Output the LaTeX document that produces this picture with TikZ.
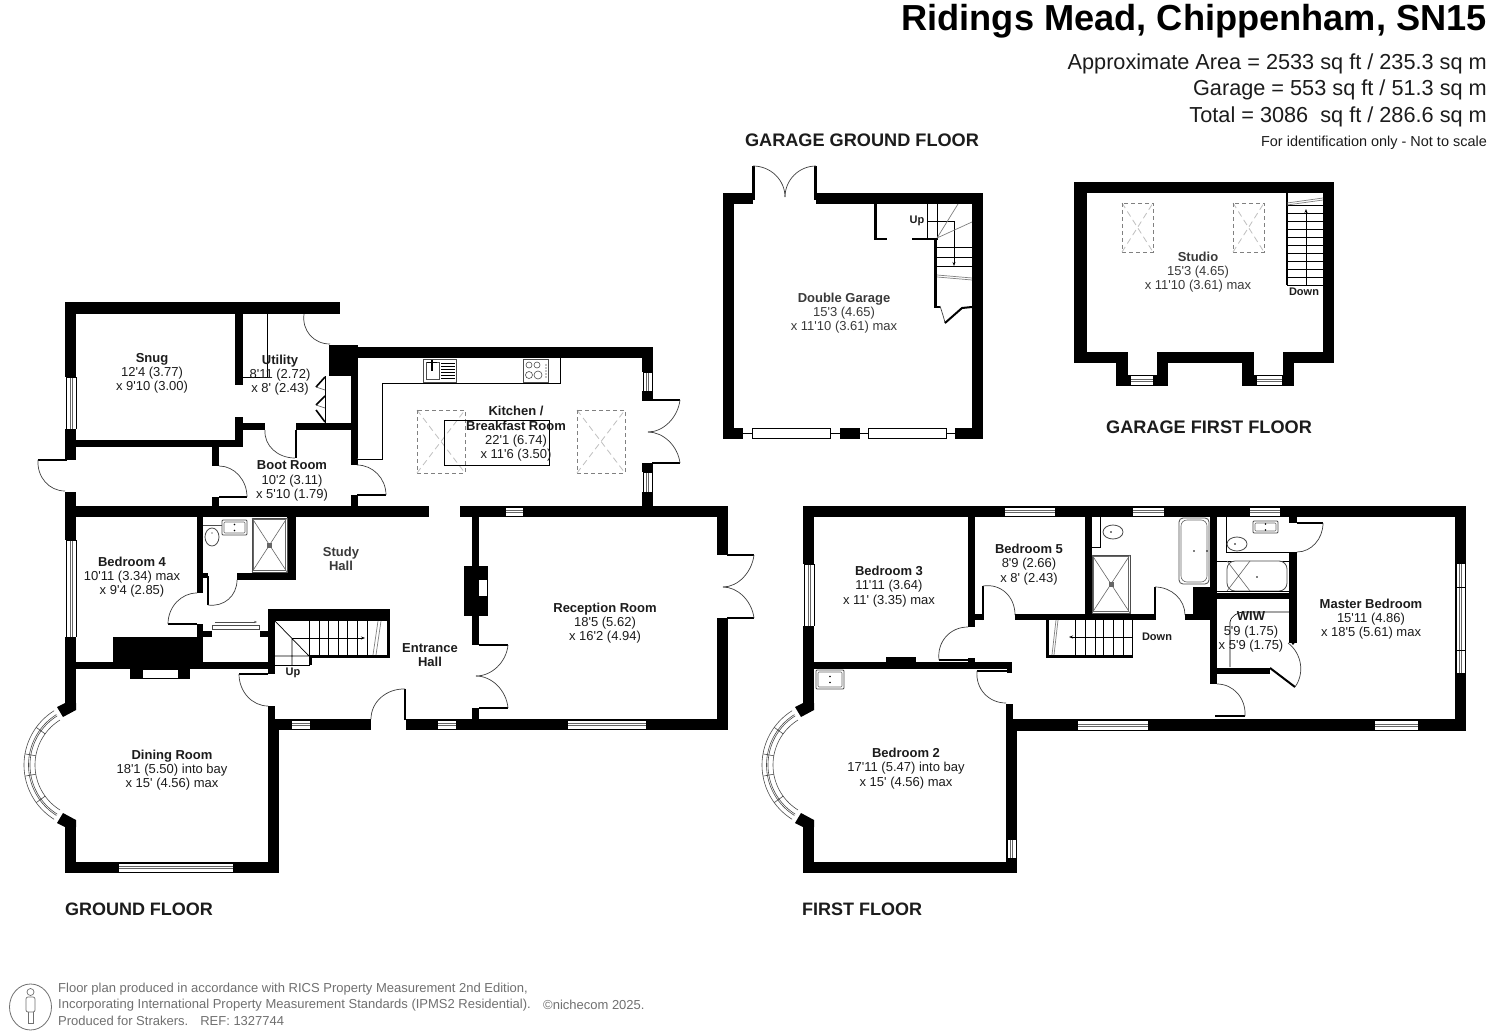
\documentclass[tikz,border=0pt]{standalone}
\usepackage{fontspec}
\newfontfamily\arialf{Liberation Sans}
\usetikzlibrary{arrows.meta}
\definecolor{ink}{HTML}{1C1C1C}
\definecolor{soft}{HTML}{3A3A3A}
\definecolor{foot}{HTML}{707070}
\tikzset{
  rm/.style={align=center,inner sep=0pt,text=ink,font=\arialf\fontsize{13}{14.3}\selectfont},
  softrm/.style={rm,text=soft},
  tiny/.style={inner sep=0pt,text=ink,font=\arialf\bfseries\fontsize{11}{13}\selectfont},
  floor/.style={inner sep=0pt,text=ink,font=\arialf\bfseries\fontsize{18.15}{20}\selectfont},
  floorb/.style={inner sep=0pt,text=ink,font=\arialf\bfseries\fontsize{18}{20}\selectfont},
  area/.style={inner sep=0pt,anchor=east,text=ink,font=\arialf\fontsize{21.7}{24}\selectfont},
  footl/.style={inner sep=0pt,anchor=west,text=foot,font=\arialf\fontsize{13}{15}\selectfont},
  thin1/.style={draw=black,line width=0.6pt},
  arcl/.style={draw=black!75,line width=0.7pt},
  leaf/.style={draw=black,line width=2pt},
  tread/.style={draw=black,line width=0.7pt},
  fix/.style={draw=black!70,line width=0.8pt,fill=white},
  skyd/.style={draw=black!50,line width=0.8pt,dashed,dash pattern=on 4pt off 3pt},
  skyx/.style={draw=black!25,line width=0.8pt,dashed,dash pattern=on 6pt off 4pt},
}
\newcommand{\Wl}[4]{\fill[black] (#1,#2) rectangle (#3,#4);}
% horizontal window: x1 x2 y1 y2
\newcommand{\WinH}[4]{\fill[white] (#1,#3) rectangle (#2,#4);
  \draw[thin1] (#1,#3) -- (#2,#3) (#1,#4) -- (#2,#4);
  \draw[draw=black!60,line width=0.6pt] (#1,{(#3+#4)/2-1}) -- (#2,{(#3+#4)/2-1}) (#1,{(#3+#4)/2+1}) -- (#2,{(#3+#4)/2+1});
  \draw[thin1] (#1,#3) -- (#1,#4) (#2,#3) -- (#2,#4);}
\newcommand{\WinV}[4]{\fill[white] (#1,#3) rectangle (#2,#4);
  \draw[thin1] (#1,#3) -- (#1,#4) (#2,#3) -- (#2,#4);
  \draw[draw=black!60,line width=0.6pt] ({(#1+#2)/2-1},#3) -- ({(#1+#2)/2-1},#4) ({(#1+#2)/2+1},#3) -- ({(#1+#2)/2+1},#4);
  \draw[thin1] (#1,#3) -- (#2,#3) (#1,#4) -- (#2,#4);}
% door swing: hinge h, leaf tip p, closed tip q
\newcommand{\Sw}[6]{\draw[arcl] (#3,#4) .. controls ({#3+0.55*(#5-#1)},{#4+0.55*(#6-#2)}) and ({#5+0.55*(#3-#1)},{#6+0.55*(#4-#2)}) .. (#5,#6);}
\newcommand{\Dr}[6]{\draw[leaf] (#1,#2) -- (#3,#4); \Sw{#1}{#2}{#3}{#4}{#5}{#6}}
\newcommand{\Sky}[4]{\draw[skyx] (#1,#2) -- (#3,#4) (#1,#4) -- (#3,#2); \draw[skyd] (#1,#2) rectangle (#3,#4);}
\newcommand{\Shower}[4]{\draw[fix] (#1,#2) rectangle (#3,#4);
  \draw[draw=black!60,line width=0.6pt] ({#1+1.5},{#2+1.5}) rectangle ({#3-1.5},{#4-1.5});
  \draw[draw=black!60,line width=0.6pt] (#1,#2) -- (#3,#4) (#1,#4) -- (#3,#2);
  \fill[black!60] ({(#1+#3)/2-2.5},{(#2+#4)/2-2.5}) rectangle ({(#1+#3)/2+2.5},{(#2+#4)/2+2.5});}
\newcommand{\Basin}[4]{\draw[fix,rounded corners=1pt] (#1,#2) rectangle (#3,#4);
  \draw[draw=black!60,line width=0.6pt,rounded corners=1pt] ({#1+2},{#2+2}) rectangle ({#3-2},{#4-2});
  \fill[black] ({(#1+#3)/2},{(#2+#4)/2-3}) circle (0.9pt) ({(#1+#3)/2},{(#2+#4)/2+3}) circle (0.9pt);}
\newcommand{\Bay}{%
  \foreach \r in {53,58,59.5,64}{\draw[draw=black!70,line width=0.6pt] plot[domain=122:238,samples=40] ({88+\r*cos(\x)},{765+\r*sin(\x)});}
  \foreach \a in {144,170,190,216}{\draw[draw=black!70,line width=0.6pt] ({88+53*cos(\a)},{765+53*sin(\a)}) -- ({88+64*cos(\a)},{765+64*sin(\a)});}
  \fill[black] (57,707) -- (65,703) -- (76,703) -- (76,710) -- (63,717) -- cycle;
  \fill[black] (57,823) -- (65,827) -- (76,827) -- (76,820) -- (63,813) -- cycle;}
\begin{document}
\begin{tikzpicture}[x=1pt,y=-1pt,line cap=butt]
\useasboundingbox (0,0) rectangle (1496,1032);
\fill[white] (0,0) rectangle (1496,1032);

% ---------- GROUND FLOOR ----------
\Wl{65}{302}{340}{314}
\Wl{65}{302}{76}{377}\Wl{65}{429}{76}{460}\Wl{65}{492}{76}{540}\Wl{65}{637}{76}{703}\Wl{65}{827}{76}{873}
\WinV{66}{76}{377}{429}\WinV{66}{76}{540}{637}
\Dr{67}{460}{38}{460}{65}{491}
\Wl{235}{314}{243}{385}\Wl{235}{417}{243}{447}
\draw[thin1] (267,314) -- (267,377) -- (243,377);
\Wl{76}{440}{243}{447}
\Wl{243}{423}{265}{430}\Wl{296}{423}{352}{430}\Wl{295}{430}{297}{458}
\Sw{297}{430}{265}{430}{295}{458}
\Wl{212}{447}{219}{466}\Wl{212}{497}{219}{507}
\Dr{219}{497}{247}{497}{219}{466}
\Wl{329}{345}{358}{376}
\Wl{329}{347}{653}{358}
\Wl{351}{345}{358}{465}\Wl{351}{495}{358}{507}
\Dr{357}{495}{386}{495}{357}{465}
% utility door and cupboard folding doors
\Sw{334}{314}{304}{314}{330}{344}
\draw[thin1] (325,376) -- (325,423);
\draw[draw=black,line width=1.6pt] (325,377) -- (316,387) (325,396) -- (316,405) (316,410) -- (325,422);
\draw[draw=black!70,line width=0.6pt] (316,387) -- (325,390) (316,405) -- (325,408);
\Wl{642}{347}{653}{372}\Wl{642}{391}{653}{401}\Wl{642}{463}{653}{472}\Wl{642}{492}{653}{507}
\WinV{643}{652}{372}{391}\WinV{643}{652}{472}{492}
\Dr{652}{400}{680}{400}{648}{432}
\Dr{652}{463}{680}{463}{648}{432}
\Wl{65}{506}{429}{517}\Wl{460}{506}{728}{517}
\WinH{505}{523}{507}{516}
\Wl{717}{506}{728}{555}\Wl{717}{618}{728}{730}
\Dr{727}{555}{754}{555}{723}{587}
\Dr{727}{618}{754}{618}{723}{587}
\Wl{406}{719}{728}{730}
\WinH{437}{456}{720}{729}\WinH{567}{646}{720}{729}
\Wl{268}{719}{371}{730}
\WinH{291}{310}{720}{729}
\draw[leaf] (405,720) -- (405,689);
\Sw{405}{720}{405}{689}{371}{719}
\Wl{472}{517}{479}{645}\Wl{464}{566}{488}{616}
\fill[white] (479,580) rectangle (487,596);
\Dr{479}{645}{508}{645}{476}{676}
\Dr{479}{708}{508}{708}{476}{676}
\Wl{472}{708}{479}{719}
% kitchen counter and fittings
\draw[thin1,fill=white] (357,459) -- (382,459) -- (382,383) -- (560,383) -- (560,358);
\draw[fix] (423,359) rectangle (456,382);
\draw[draw=black!70,line width=0.6pt] (426,362) rectangle (439,379);
\foreach \yy in {363,366,369,372,375,378}{\draw[black,line width=1pt] (441,\yy) -- (455,\yy);}
\draw[black,line width=1.4pt] (432,360) -- (432,371);
\draw[black,line width=1pt] (427,362) -- (437,362);
\draw[fix] (523,359) rectangle (548,382);
\foreach \cx/\cy/\cr in {529/365/3,537/365/3,529/375/3.5,538/375/4}{\draw[black!70,line width=0.6pt] (\cx,\cy) circle (\cr pt);}
\foreach \yy in {365,368,371,374,377}{\fill[black] (546,\yy) circle (0.7pt);}
\Sky{417}{410}{465}{473}
\Sky{577}{410}{625}{473}
\draw[draw=black,line width=0.8pt] (444,420) rectangle (549,465);
% bath & bedroom 4 side
\Wl{197}{517}{203}{593}
\Wl{203}{573}{208}{578}
\Dr{208}{576}{208}{605}{237}{580}
\Wl{237}{573}{296}{580}\Wl{287}{517}{296}{580}
\Shower{252}{518}{287}{572}
\draw[fix] (203,525) -- (222,525);
\draw[fix] (212,537) ellipse (7pt and 9pt);
\fill[black] (212,533) circle (0.7pt);
\Basin{222}{520}{247}{535}
\Dr{197}{624}{168}{624}{197}{593}
\Wl{197}{624}{203}{637}\Wl{113}{637}{203}{665}
\Wl{76}{662}{268}{669}
\Wl{130}{669}{190}{679}
\fill[white] (143,670) rectangle (178,678);
\Wl{203}{631}{212}{637}\Wl{260}{631}{268}{637}
\draw[fix] (212,625) rectangle (259,629);
\draw[-{Stealth[length=3pt]},draw=black!70,line width=0.6pt] (215,622) -- (257,622);
% ground stairs
\Wl{268}{609}{275}{674}\Wl{268}{609}{390}{621}\Wl{387}{609}{390}{658}\Wl{312}{655}{390}{658}\Wl{309}{655}{312}{665}
\draw[tread] (275,665) -- (310,665);
\foreach \xx in {309,319,328,338,347,357,367}{\draw[tread] (\xx,621) -- (\xx,655);}
\draw[draw=black!50,line width=0.7pt] (373,655) -- (378,621) (376,655) -- (381,621);
\draw[tread] (275,621) -- (309,656) (275,656) -- (309,656) (292,638) -- (292,665);
\draw[-{Stealth[length=4pt]},tread] (292,638) -- (365,638);
\Dr{268}{674}{239}{674}{268}{706}
\Wl{268}{706}{275}{719}\Wl{268}{719}{279}{873}
\Wl{65}{862}{279}{873}
\WinH{118}{233}{863}{872}
\begin{scope}\Bay\end{scope}

% ---------- GARAGE GROUND FLOOR ----------
\Wl{723}{193}{753}{204}\Wl{816}{193}{983}{204}
\Wl{723}{193}{734}{439}\Wl{972}{193}{983}{439}
\Wl{752}{166}{755}{200}\Wl{814}{166}{817}{200}
\Sw{753}{197}{753}{166}{785}{197}
\Sw{816}{197}{816}{166}{785}{197}
\Wl{874}{204}{877}{240}\Wl{874}{238}{887}{240}\Wl{912}{238}{936}{240}
\Wl{934}{238}{937}{308}\Wl{934}{306}{940}{308}
\Sw{940}{308}{940}{306}{945}{323}
\draw[leaf] (945,323) -- (962,308) -- (972,307);
\foreach \yy in {247,257,266}{\draw[tread] (937,\yy) -- (972,\yy);}
\draw[draw=black!50,line width=0.7pt] (937,275) -- (972,278) (937,277) -- (972,280);
\draw[tread] (927,204) -- (927,240) (937,204) -- (937,240) (927,221) -- (954,221);
\draw[-{Stealth[length=4pt]},tread] (954,221) -- (954,266);
\draw[draw=black!50,line width=0.7pt] (937,238) -- (958,204) (937,238) -- (972,222);
\Wl{723}{428}{743}{439}\Wl{840}{428}{860}{439}\Wl{955}{428}{983}{439}
\draw[thin1] (743,433.5) -- (752,433.5) (830,433.5) -- (840,433.5) (860,433.5) -- (868,433.5) (946,433.5) -- (955,433.5);
\draw[thin1] (752,428.5) rectangle (830,438.5);
\draw[thin1] (868,428.5) rectangle (946,438.5);

% ---------- GARAGE FIRST FLOOR ----------
\Wl{1074}{182}{1334}{193}
\Wl{1074}{182}{1087}{363}\Wl{1323}{182}{1334}{363}
\Wl{1074}{352}{1128}{363}\Wl{1157}{352}{1254}{363}\Wl{1283}{352}{1334}{363}
\Wl{1116}{352}{1128}{386}\Wl{1157}{352}{1168}{386}\Wl{1242}{352}{1254}{386}\Wl{1283}{352}{1294}{386}
\Wl{1116}{375}{1130}{386}\Wl{1153}{375}{1168}{386}\Wl{1242}{375}{1256}{386}\Wl{1282}{375}{1294}{386}
\WinH{1130}{1153}{375}{385}\WinH{1256}{1282}{375}{385}
\Sky{1122}{203}{1153}{252}
\Sky{1233}{203}{1264}{252}
\Wl{1286}{193}{1288}{285}
\foreach \yy in {205,213,221,229,237,245,253,261,269,277,285}{\draw[tread] (1287,\yy) -- (1323,\yy);}
\draw[draw=black!50,line width=0.7pt] (1287,203) -- (1323,198) (1287,205) -- (1323,200);
\draw[-{Stealth[length=4pt]},tread] (1306,285) -- (1306,209);

% ---------- FIRST FLOOR ----------
\Wl{803}{506}{1466}{517}
\WinH{1004}{1055}{507}{516}\WinH{1132}{1164}{507}{516}\WinH{1249}{1280}{507}{516}
\Wl{803}{506}{814}{564}\Wl{803}{626}{814}{703}\Wl{803}{827}{814}{873}
\WinV{804}{814}{564}{626}
\Wl{803}{862}{1017}{873}
\Wl{1006}{719}{1017}{873}
\WinV{1007}{1016}{839}{858}
\Wl{1006}{704}{1013}{720}
\Wl{1006}{719}{1466}{731}
\WinH{1077}{1148}{720}{730}\WinH{1374}{1418}{720}{730}
\Wl{1455}{506}{1466}{731}
\WinV{1456}{1465}{563}{587}\WinV{1456}{1465}{587}{650}\WinV{1456}{1465}{650}{673}
\Wl{968}{517}{975}{627}
\Wl{975}{614}{983}{620}
\Dr{983}{620}{983}{586}{1015}{615}
\Wl{1015}{614}{1156}{620}
\Wl{1085}{517}{1092}{620}
\Dr{1155}{615}{1155}{587}{1185}{615}
\Wl{1185}{614}{1217}{620}
\Wl{1193}{587}{1217}{620}
\Wl{1210}{517}{1217}{684}
\Wl{1217}{593}{1297}{599}
\Wl{1289}{552}{1297}{643}\Wl{1289}{517}{1297}{523}
\fill[black] (1289,640) -- (1297,640) -- (1293,645) -- cycle;
\Dr{1297}{523}{1323}{523}{1297}{552}
\Wl{1217}{668}{1270}{674}
\draw[leaf] (1270,668) -- (1295,687);
\Sw{1270}{668}{1295}{687}{1288}{643}
\draw[thin1] (1230,667) -- (1230,622) .. controls (1230,617) and (1238,612) .. (1243,612) -- (1289,612);
\Dr{1215}{716}{1245}{716}{1217}{684}
% wet rooms
\draw[fix,rounded corners=4pt] (1179,518) rectangle (1209,584);
\draw[draw=black!60,line width=0.6pt,rounded corners=6pt] (1181,520) rectangle (1207,582);
\fill[black] (1194,551) circle (0.9pt) (1207,551) circle (0.9pt);
\draw[thin1] (1100,517) -- (1100,547) -- (1092,547);
\draw[fix] (1113,532) ellipse (10pt and 7pt);
\fill[black] (1111,532) circle (0.8pt);
\Shower{1092}{555}{1130}{613}
\draw[thin1] (1226,517) -- (1226,552) -- (1289,552);
\draw[fix] (1237,544) ellipse (10pt and 7pt);
\fill[black] (1235,544) circle (0.8pt);
\Basin{1253}{521}{1278}{533}
\draw[thin1] (1217,561) -- (1289,561);
\draw[fix,rounded corners=8pt] (1227,561) rectangle (1287,591);
\draw[draw=black!60,line width=0.6pt] (1227,561) -- (1250,591) (1227,591) -- (1250,561);
\fill[black] (1257,577) circle (0.9pt);
\draw[thin1] (1217,591) -- (1289,591);
\draw[thin1] (1289,561) -- (1289,591);
% first floor stairs
\Wl{1046}{620}{1049}{658}\Wl{1046}{655}{1133}{658}
\foreach \xx in {1075,1085,1095,1103,1113,1123,1132}{\draw[tread] (\xx,620) -- (\xx,655);}
\draw[draw=black!50,line width=0.7pt] (1052,655) -- (1056,620) (1054,655) -- (1058,620);
\draw[-{Stealth[length=4pt]},tread] (1132,637) -- (1069,637);
% bed 2/3 partition
\Wl{814}{662}{1012}{669}
\Wl{886}{657}{916}{662}
\Wl{968}{658}{975}{662}
\Dr{972}{660}{939}{660}{968}{627}
\Wl{1007}{662}{1012}{673}
\Dr{1009}{671}{977}{671}{1006}{703}
\Basin{816}{670}{844}{689}
\begin{scope}[shift={(738,0)}]\Bay\end{scope}

% ---------- TEXT ----------
\node[rm] (snug) at (152,373.5) {\textbf{Snug}\\12'4 (3.77)\\x 9'10 (3.00)};
\node[rm] (utility) at (280,375) {\textbf{Utility}\\8'11 (2.72)\\x 8' (2.43)};
\node[rm] (boot) at (292,481) {\textbf{Boot Room}\\10'2 (3.11)\\x 5'10 (1.79)};
\node[rm] (kitchen) at (516,434) {\textbf{Kitchen /}\\\textbf{Breakfast Room}\\22'1 (6.74)\\x 11'6 (3.50)};
\node[rm] (reception) at (605,623) {\textbf{Reception Room}\\18'5 (5.62)\\x 16'2 (4.94)};
\node[rm] (entrance) at (430,655) {\textbf{Entrance}\\\textbf{Hall}};
\node[softrm] (study) at (341,559) {\textbf{Study}\\\textbf{Hall}};
\node[rm] (bed4) at (132,577) {\textbf{Bedroom 4}\\10'11 (3.34) max\\x 9'4 (2.85)};
\node[rm] (dining) at (172,770) {\textbf{Dining Room}\\18'1 (5.50) into bay\\x 15' (4.56) max};
\node[tiny] (upa) at (293,673) {Up};
\node[softrm] (garage) at (844,313) {\textbf{Double Garage}\\15'3 (4.65)\\x 11'10 (3.61) max};
\node[tiny] (upb) at (917,221) {Up};
\node[softrm] (studio) at (1198,272) {\textbf{Studio}\\15'3 (4.65)\\x 11'10 (3.61) max};
\node[tiny] (downa) at (1304,292) {Down};
\node[rm] (bed2) at (906,768.5) {\textbf{Bedroom 2}\\17'11 (5.47) into bay\\x 15' (4.56) max};
\node[rm] (bed3) at (889,586.5) {\textbf{Bedroom 3}\\11'11 (3.64)\\x 11' (3.35) max};
\node[rm] (bed5) at (1029,564.5) {\textbf{Bedroom 5}\\8'9 (2.66)\\x 8' (2.43)};
\node[rm] (master) at (1371,619) {\textbf{Master Bedroom}\\15'11 (4.86)\\x 18'5 (5.61) max};
\node[rm] (wiw) at (1251,632) {\textbf{WIW}\\5'9 (1.75)\\x 5'9 (1.75)};
\node[tiny] (downb) at (1157,637) {Down};
\node[floor] (fgg) at (862,140) {GARAGE GROUND FLOOR};
\node[floor] (fgf) at (1209,427) {GARAGE FIRST FLOOR};
\node[floorb] (fg) at (139,909) {GROUND FLOOR};
\node[floorb] (ff) at (862,909) {FIRST FLOOR};
\node[inner sep=0pt,anchor=east,text=black,font=\arialf\bfseries\fontsize{36.2}{40}\selectfont] (title) at (1487,21) {Ridings Mead, Chippenham, SN15};
\node[area] (a1) at (1487,64) {Approximate Area = 2533 sq ft / 235.3 sq m};
\node[area] (a2) at (1487,90) {Garage = 553 sq ft / 51.3 sq m};
\node[area] (a3) at (1487,117) {Total = 3086 \ sq ft / 286.6 sq m};
\node[inner sep=0pt,anchor=east,text=ink,font=\arialf\fontsize{14.45}{16}\selectfont] (a4) at (1487,143) {For identification only - Not to scale};
\node[footl] (f1) at (58,989) {Floor plan produced in accordance with RICS Property Measurement 2nd Edition,};
\node[footl] (f2) at (58,1005) {Incorporating International Property Measurement Standards (IPMS2 Residential).};
\node[footl] (f3) at (58,1021) {Produced for Strakers. \ \ REF: 1327744};
\node[footl] (f4) at (543,1005) {©nichecom 2025.};
% person icon
\draw[draw=foot,line width=0.8pt] (30.5,1007) ellipse (21pt and 23pt);
\draw[draw=foot,line width=0.7pt] (30.5,992) circle (3.5pt);
\draw[draw=foot,line width=0.7pt,rounded corners=2pt] (26,997) rectangle (35,1012);
\draw[draw=foot,line width=0.7pt] (28,1012) -- (28,1023) -- (33,1023) -- (33,1012);
\end{tikzpicture}
\end{document}
